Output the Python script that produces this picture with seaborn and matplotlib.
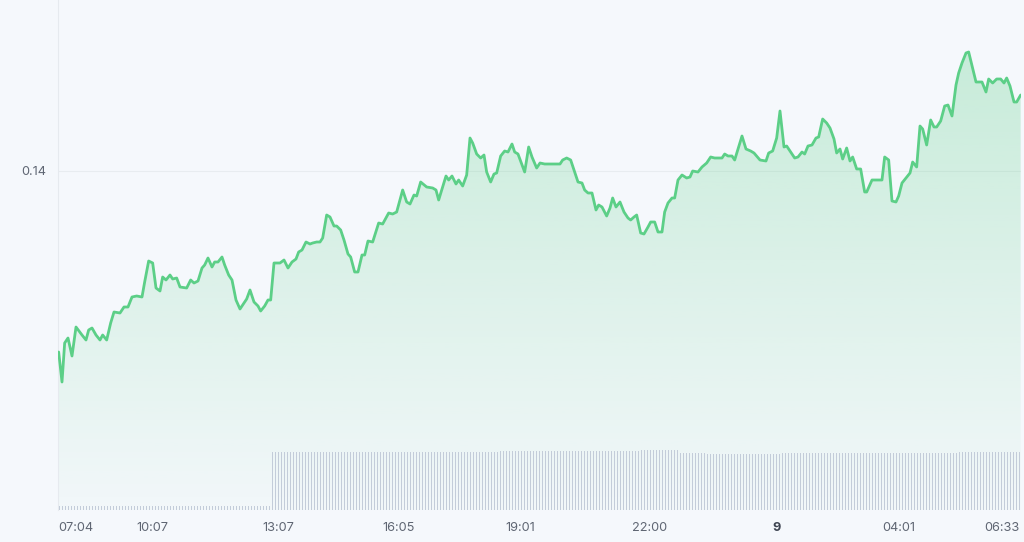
import numpy as np
import pandas as pd
import matplotlib
matplotlib.use("Agg")
import matplotlib.pyplot as plt
import seaborn as sns
from matplotlib.colors import to_rgb

# minutes after 06:40, price
minutes = [
    1, 6, 10, 15, 21, 27, 36, 42, 46, 51,
    57, 63, 67, 73, 79, 84, 93, 99, 105, 111,
    118, 126, 130, 136, 142, 147, 153, 157, 162, 168,
    172, 178, 183, 193, 199, 204, 210, 216, 220, 225,
    231, 235, 240, 246, 250, 256, 261, 267, 273, 279,
    283, 288, 294, 300, 304, 310, 315, 319, 324, 333,
    339, 345, 351, 357, 361, 366, 372, 378, 382, 388,
    393, 397, 403, 408, 414, 418, 424, 429, 435, 439,
    445, 450, 456, 460, 465, 472, 481, 487, 496, 502,
    508, 517, 523, 528, 534, 538, 544, 553, 562, 567,
    571, 577, 582, 586, 591, 597, 601, 607, 613, 618,
    622, 628, 634, 639, 643, 649, 654, 658, 664, 670,
    675, 681, 685, 690, 700, 706, 711, 718, 723, 730,
    753, 757, 763, 769, 775, 780, 786, 790, 795, 801,
    807, 811, 816, 823, 828, 832, 837, 843, 849, 855,
    859, 864, 868, 874, 879, 885, 889, 895, 900, 906,
    910, 915, 921, 925, 930, 936, 943, 948, 952, 960,
    966, 973, 979, 985, 996, 1000, 1005, 1011, 1015, 1026,
    1032, 1039, 1044, 1053, 1062, 1066, 1072, 1078, 1083, 1089,
    1093, 1105, 1110, 1116, 1120, 1125, 1131, 1137, 1141, 1147,
    1153, 1158, 1164, 1168, 1173, 1177, 1183, 1188, 1192, 1198,
    1204, 1210, 1213, 1221, 1236, 1240, 1246, 1251, 1257, 1261,
    1266, 1272, 1278, 1282, 1288, 1293, 1297, 1303, 1309, 1314,
    1318, 1324, 1330, 1335, 1341, 1347, 1351, 1356, 1362, 1366,
    1377, 1386, 1392, 1396, 1402, 1408, 1414, 1419, 1423, 1428,
    1434, 1438, 1444,
]
price = [
    .1219, .1189, .1228, .1233, .1215, .1244, .1236, .1231, .1241, .1243,
    .1236, .1231, .1236, .1231, .1248, .1259, .1258, .1264, .1264, .1274,
    .1275, .1274, .1289, .1310, .1308, .1283, .1280, .1294, .1291, .1296,
    .1292, .1293, .1284, .1283, .1291, .1288, .1290, .1303, .1306, .1313,
    .1304, .1309, .1309, .1314, .1306, .1296, .1291, .1271, .1262, .1268,
    .1272, .1281, .1269, .1265, .1260, .1265, .1271, .1271, .1308, .1308,
    .1311, .1303, .1309, .1312, .1319, .1321, .1329, .1327, .1328, .1329,
    .1329, .1333, .1356, .1354, .1345, .1345, .1341, .1331, .1317, .1314,
    .1299, .1299, .1316, .1316, .1330, .1329, .1348, .1347, .1358, .1357,
    .1359, .1381, .1369, .1367, .1376, .1375, .1389, .1384, .1383, .1381,
    .1371, .1384, .1395, .1391, .1395, .1387, .1391, .1385, .1396, .1433,
    .1428, .1417, .1413, .1416, .1399, .1389, .1397, .1398, .1415, .1420,
    .1419, .1427, .1419, .1417, .1399, .1424, .1414, .1403, .1408, .1407,
    .1407, .1411, .1413, .1411, .1399, .1389, .1388, .1381, .1378, .1378,
    .1361, .1366, .1364, .1355, .1363, .1373, .1364, .1369, .1359, .1353,
    .1351, .1354, .1356, .1338, .1337, .1344, .1349, .1349, .1339, .1339,
    .1359, .1368, .1373, .1373, .1391, .1396, .1393, .1394, .1400, .1399,
    .1404, .1408, .1414, .1413, .1413, .1417, .1415, .1415, .1411, .1435,
    .1422, .1420, .1418, .1411, .1410, .1418, .1420, .1433, .1460, .1424,
    .1425, .1413, .1414, .1419, .1417, .1425, .1426, .1433, .1434, .1452,
    .1448, .1443, .1432, .1418, .1422, .1412, .1423, .1410, .1414, .1402,
    .1402, .1379, .1379, .1391, .1391, .1414, .1411, .1370, .1369, .1375,
    .1388, .1393, .1398, .1409, .1404, .1445, .1442, .1426, .1451, .1444,
    .1444, .1450, .1465, .1466, .1455, .1486, .1498, .1508, .1518, .1519,
    .1489, .1489, .1479, .1492, .1488, .1492, .1492, .1488, .1493, .1485,
    .1469, .1469, .1476,
]
assert len(minutes) == len(price)

# volume bars: run lengths (number of bars) and their level
vol_runs = [71, 76, 47, 13, 9, 25, 59, 21]
vol_levels = [45, 577, 590, 600, 567, 557, 570, 577]

tick_pos = [26, 142, 330, 511, 693, 888, 1078, 1261, 1416]
tick_labels = ["07:04", "10:07", "13:07", "16:05", "19:01", "22:00", "9", "04:01", "06:33"]

BG = "#f5f8fc"
GREEN = "#5ccf87"
BAR = "#c3ccd9"
TXT = "#5f6673"

sns.set_theme(style="white")
plt.rcParams["font.family"] = ["Inter", "DejaVu Sans"]

df = pd.DataFrame({"minute": minutes, "price": price})
volume = np.repeat(vol_levels, vol_runs)
slot = 4.5
vol_x = (np.arange(len(volume)) + 0.5) * slot

fig = plt.figure(figsize=(10.24, 5.42), dpi=100, facecolor=BG)
ax = fig.add_axes([58 / 1024, 32 / 542, 963 / 1024, 510 / 542])
ax.set_facecolor(BG)
x0, x1 = 0, 1444.5
y0, y1 = 0.1061, 0.1571

# gradient fill under the line
top = max(price)
rgba = np.zeros((256, 1, 4))
rgba[..., :3] = to_rgb(GREEN)
rgba[:, 0, 3] = np.linspace(0.30, 0.02, 256)
im = ax.imshow(rgba, extent=[x0, x1, y0, top], origin="upper", aspect="auto", zorder=1)
poly = ax.fill_between(df["minute"], df["price"], y0, color="none", lw=0)
im.set_clip_path(poly.get_paths()[0], transform=ax.transData)

sns.lineplot(data=df, x="minute", y="price", color=GREEN, lw=2, ax=ax, zorder=3)

ax.set_xlim(x0, x1)
ax.set_ylim(y0, y1)
ax.set_xlabel("")
ax.set_ylabel("")
ax.set_yticks([0.14])
ax.set_yticklabels(["0.14"])
ax.set_xticks(tick_pos)
ax.set_xticklabels(tick_labels)
ax.tick_params(axis="both", length=0, labelsize=9.2, labelcolor=TXT)
ax.tick_params(axis="y", pad=8.5)
ax.tick_params(axis="x", pad=8.5)
for lab in ax.get_xticklabels():
    if lab.get_text() == "9":
        lab.set_fontweight("bold")
        lab.set_color("#3d4451")
ax.grid(axis="y", color="#e8ecf0", lw=0.8)
ax.grid(axis="x", visible=False)
for side in ["top", "right", "bottom"]:
    ax.spines[side].set_visible(False)
ax.spines["left"].set_color("#e6eaef")
ax.spines["left"].set_linewidth(0.8)

# volume on a twin axis
ax2 = ax.twinx()
ax2.bar(vol_x, volume, width=2.3, color=BAR, lw=0)
ax2.set_ylim(0, 5100)
ax2.set_xlim(x0, x1)
ax2.set_yticks([])
for side in ax2.spines:
    ax2.spines[side].set_visible(False)

fig.savefig("out.png", dpi=100, facecolor=BG)
